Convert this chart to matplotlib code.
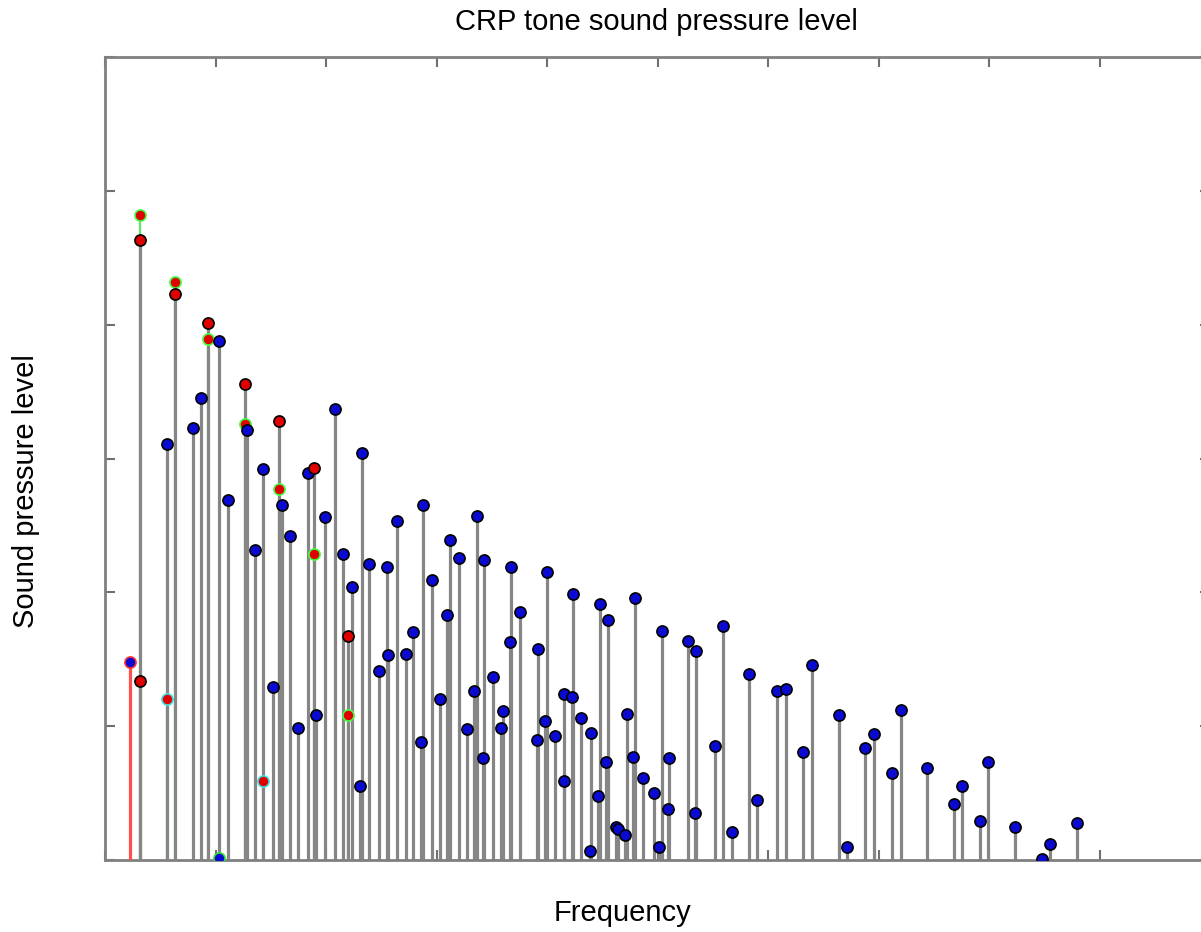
import matplotlib
matplotlib.use("Agg")
import matplotlib.pyplot as plt

plt.rcParams['font.family'] = ['Liberation Sans', 'DejaVu Sans']

# fundamental tone (red stem)
fund_freq = [0.226]
fund_spl = [14.8]

# harmonic series, red markers
harm_freq = [0.317, 0.317, 0.633, 0.932, 1.264, 1.577, 1.891, 2.199]
harm_spl = [46.3, 13.4, 42.3, 40.1, 35.6, 32.8, 29.3, 16.7]

# second harmonic estimate, red markers with green edge
harm2_freq = [0.317, 0.633, 0.932, 1.264, 1.577, 1.891, 2.199]
harm2_spl = [48.2, 43.2, 38.9, 32.6, 27.7, 22.9, 10.8]

# red markers with cyan edge
side_freq = [0.558, 1.427]
side_spl = [12.0, 5.9]

# blue marker with green edge
low_freq = [1.036]
low_spl = [0.15]

# all other partials (blue)
part_freq = [0.558, 0.799, 0.869, 1.036, 1.110, 1.288, 1.357, 1.427, 1.520, 1.599,
             1.671, 1.747, 1.840, 1.910, 1.991, 2.081, 2.151, 2.233, 2.308, 2.326,
             2.389, 2.477, 2.549, 2.564, 2.640, 2.721, 2.790, 2.860, 2.881, 2.962,
             3.032, 3.098, 3.122, 3.204, 3.273, 3.342, 3.364, 3.423, 3.433, 3.514,
             3.586, 3.602, 3.665, 3.674, 3.756, 3.912, 3.919, 3.982, 4.000, 4.075,
             4.154, 4.157, 4.229, 4.238, 4.310, 4.389, 4.398, 4.464, 4.480, 4.534,
             4.555, 4.624, 4.645, 4.706, 4.727, 4.776, 4.796, 4.869, 4.968, 5.011,
             5.038, 5.098, 5.107, 5.279, 5.339, 5.348, 5.523, 5.593, 5.671, 5.831,
             5.903, 6.079, 6.163, 6.319, 6.401, 6.643, 6.712, 6.875, 6.956, 7.119,
             7.201, 7.442, 7.683, 7.753, 7.921, 7.994, 8.238, 8.480, 8.552, 8.794]
part_spl = [31.1, 32.3, 34.5, 38.8, 26.9, 32.1, 23.2, 29.2, 12.9, 26.5,
            24.2, 9.9, 28.9, 10.8, 25.6, 33.7, 22.9, 20.4, 5.5, 30.4,
            22.1, 14.1, 21.9, 15.3, 25.3, 15.4, 17.0, 8.8, 26.5, 20.9,
            12.0, 18.3, 23.9, 22.6, 9.8, 12.6, 25.7, 7.6, 22.4, 13.7,
            9.9, 11.1, 16.3, 21.9, 18.5, 9.0, 15.8, 10.4, 21.5, 9.3,
            12.4, 5.9, 12.2, 19.9, 10.6, 0.7, 9.5, 4.8, 19.1, 7.3,
            17.9, 2.5, 2.3, 1.9, 10.9, 7.7, 19.6, 6.1, 5.0, 1.0,
            17.1, 3.8, 7.6, 16.4, 3.5, 15.6, 8.5, 17.5, 2.1, 13.9,
            4.5, 12.6, 12.8, 8.1, 14.6, 10.8, 1.0, 8.4, 9.4, 6.5,
            11.2, 6.9, 4.2, 5.5, 2.9, 7.3, 2.5, 0.05, 1.2, 2.8]

STEM_GRAY = '#868686'
BLUE = '#0a0ad2'
RED = '#e00000'
MS = 8

fig = plt.figure(figsize=(12.01, 9.32), dpi=100)
ax = fig.add_axes([105 / 1201, 72 / 932, 1105 / 1201, 803 / 932])


def draw_stems(x, y, stem_color, face, edge, z, lw=2.3):
    markerline, stemlines, baseline = ax.stem(x, y, linefmt='-', markerfmt='o', basefmt=' ')
    stemlines.set_color(stem_color)
    stemlines.set_linewidth(lw)
    stemlines.set_zorder(z)
    markerline.set_markerfacecolor(face)
    markerline.set_markeredgecolor(edge)
    markerline.set_markersize(MS)
    markerline.set_markeredgewidth(1.2)
    markerline.set_zorder(10 + z)
    baseline.set_visible(False)


# green / cyan stems go under the gray ones so only the part above shows
draw_stems(harm2_freq, harm2_spl, '#60e860', RED, '#40ff40', 1, lw=1.6)
draw_stems(side_freq, side_spl, '#60d0e0', RED, '#40e0e0', 1, lw=1.6)
draw_stems(part_freq, part_spl, STEM_GRAY, BLUE, 'black', 2)
draw_stems(harm_freq, harm_spl, STEM_GRAY, RED, 'black', 3)
draw_stems(low_freq, low_spl, STEM_GRAY, BLUE, '#30e030', 3)
draw_stems(fund_freq, fund_spl, '#ff5050', BLUE, '#ff3030', 3)

ax.set_xlim(0, 10)
ax.set_ylim(0, 60)
ax.set_xticks(range(0, 11))
ax.set_yticks(range(0, 61, 10))
ax.tick_params(direction='in', length=7, width=1.5, color='#707070',
               top=True, right=True, labelbottom=False, labelleft=False)
for sp in ax.spines.values():
    sp.set_color('#808080')
    sp.set_linewidth(2)

fig.text(656 / 1201, 1 - 22 / 932, 'CRP tone sound pressure level',
         ha='center', va='center', fontsize=21)
fig.text(623 / 1201, 1 - 913 / 932, 'Frequency', ha='center', va='center', fontsize=21)
fig.text(26 / 1201, 1 - 491 / 932, 'Sound pressure level', ha='center', va='center',
         rotation=90, fontsize=21)

fig.savefig('out.png', dpi=100)
